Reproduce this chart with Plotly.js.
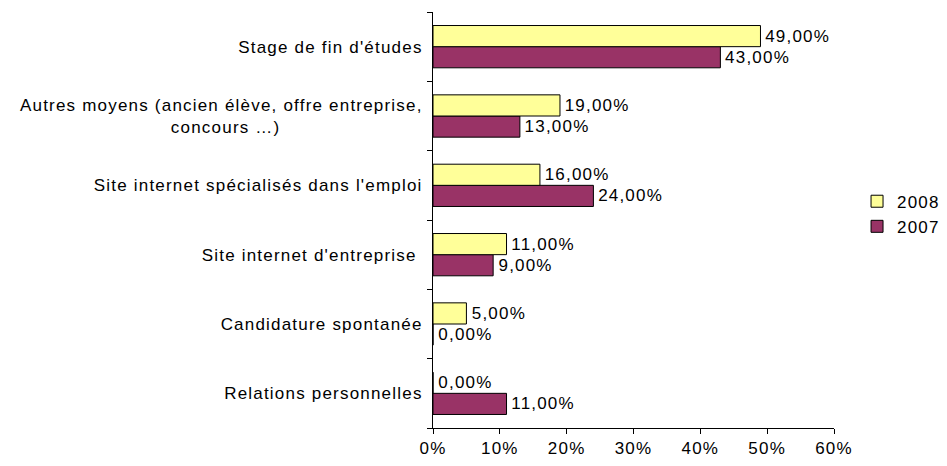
<!DOCTYPE html>
<html>
<head>
<meta charset="utf-8">
<script src="https://cdn.plot.ly/plotly-3.0.1.min.js"></script>
<style>
  body { margin: 0; background: #fff; }
  #chart { width: 947px; height: 466px; }
  #chart svg text { letter-spacing: 1.2px; }
</style>
</head>
<body>
<div id="chart"></div>
<script>
// categories, bottom to top (plotly puts the first category at the bottom)
var categories = [
  'Relations personnelles',
  'Candidature spontanée',
  "Site internet d'entreprise\u00a0",
  "Site internet spécialisés dans l'emploi",
  'Autres moyens (ancien élève, offre entreprise,<br>concours …)' + '\u00a0'.repeat(24),
  "Stage de fin d'études"
];
var values2007 = [11, 0, 9, 24, 13, 43];
var values2008 = [0, 5, 11, 16, 19, 49];
var xTickVals = [0, 10, 20, 30, 40, 50, 60];
var xTickText = ['0%', '10%', '20%', '30%', '40%', '50%', '60%'];

function pctLabel(v) {
  return '\u00a0' + v.toFixed(2).replace('.', ',') + '%';
}

var font = { family: 'Liberation Sans, Arial, sans-serif', size: 17, color: '#000' };

var data = [
  {
    type: 'bar',
    orientation: 'h',
    name: '2007',
    y: categories,
    x: values2007,
    text: values2007.map(pctLabel),
    textposition: 'outside',
    constraintext: 'none',
    cliponaxis: false,
    textfont: font,
    hoverinfo: 'none',
    marker: { color: '#993366', line: { color: '#000', width: 1 } }
  },
  {
    type: 'bar',
    orientation: 'h',
    name: '2008',
    y: categories,
    x: values2008,
    text: values2008.map(pctLabel),
    textposition: 'outside',
    constraintext: 'none',
    cliponaxis: false,
    textfont: font,
    hoverinfo: 'none',
    marker: { color: '#FFFF99', line: { color: '#000', width: 1 } }
  }
];

var layout = {
  width: 947,
  height: 466,
  margin: { l: 433, r: 113, t: 12, b: 38 },
  paper_bgcolor: '#fff',
  plot_bgcolor: '#fff',
  font: font,
  barmode: 'group',
  bargap: 0.39,
  bargroupgap: 0,
  showlegend: true,
  legend: {
    traceorder: 'reversed',
    xref: 'container',
    x: 0.905, y: 0.514, xanchor: 'left', yanchor: 'middle',
    font: font,
    itemwidth: 30,
    tracegroupgap: 0
  },
  xaxis: {
    range: [0, 60],
    tickvals: xTickVals,
    ticktext: xTickText,
    showgrid: false,
    zeroline: false,
    showline: true,
    linecolor: '#000',
    linewidth: 1,
    ticks: 'outside',
    ticklen: 5,
    tickcolor: '#000',
    tickfont: font
  },
  yaxis: {
    showgrid: false,
    zeroline: false,
    showline: true,
    linecolor: '#000',
    linewidth: 1,
    ticks: 'outside',
    tickson: 'boundaries',
    ticklen: 5,
    tickcolor: '#000',
    tickfont: font,
    ticklabelstandoff: 6
  }
};

Plotly.newPlot('chart', data, layout, { displayModeBar: false, staticPlot: true });
</script>
</body>
</html>
